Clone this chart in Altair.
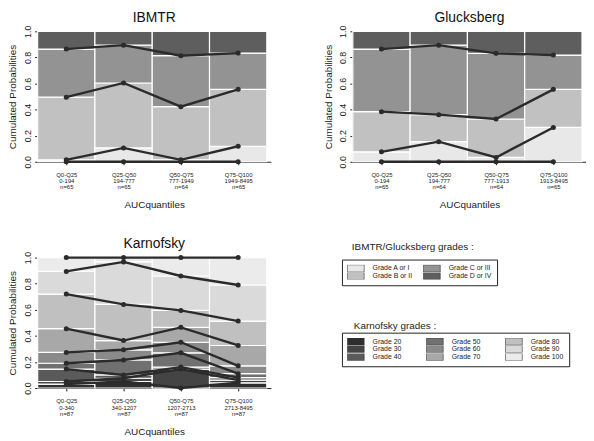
import json
import altair as alt
import pandas as pd

# ---------------- data ----------------
QUANTILES = ["Q0-Q25", "Q25-Q50", "Q50-Q75", "Q75-Q100"]

IBMTR_RANGES = ["0-194", "194-777", "777-1949", "1949-8495"]
IBMTR_N = ["n=65", "n=65", "n=64", "n=65"]
GLUCK_RANGES = ["0-194", "194-777", "777-1913", "1913-8495"]
GLUCK_N = ["n=65", "n=64", "n=64", "n=65"]
KARN_RANGES = ["0-340", "340-1207", "1207-2713", "2713-8495"]
KARN_N = ["n=87", "n=87", "n=87", "n=87"]

IBMTR_GRADES = ["Grade A or I", "Grade B or II", "Grade C or III", "Grade D or IV"]
IBMTR_COLORS = ["#e8e8e8", "#c1c1c1", "#939393", "#5e5e5e"]
KARN_GRADES = ["Grade 20", "Grade 30", "Grade 40", "Grade 50", "Grade 60",
               "Grade 70", "Grade 80", "Grade 90", "Grade 100"]
KARN_COLORS = ["#2e2e2e", "#444444", "#5a5a5a", "#707070", "#8a8a8a",
               "#a8a8a8", "#c0c0c0", "#dadada", "#ebebeb"]

# cumulative probability at the top of each grade (last grade closes at 1.0), one list per quantile
IBMTR_CUM = [
    [0.015, 0.495, 0.864],
    [0.106, 0.604, 0.894],
    [0.015, 0.422, 0.813],
    [0.119, 0.555, 0.833],
]
GLUCK_CUM = [
    [0.076, 0.384, 0.864],
    [0.154, 0.361, 0.894],
    [0.033, 0.328, 0.831],
    [0.263, 0.555, 0.818],
]
KARN_CUM = [
    [0.030, 0.050, 0.145, 0.190, 0.273, 0.455, 0.720, 0.894],
    [0.050, 0.075, 0.100, 0.215, 0.293, 0.364, 0.641, 0.967],
    [0.000, 0.145, 0.160, 0.270, 0.351, 0.465, 0.595, 0.859],
    [0.040, 0.060, 0.080, 0.110, 0.170, 0.326, 0.513, 0.790],
]

LEGEND_TITLES = ["IBMTR/Glucksberg grades :", "Karnofsky grades :"]

FONT = "Liberation Sans"
W, H = 236, 132
LINE_COLOR = "#2b2b2b"


def panel(title, ranges, ns, cum, grades, colors, lines_at_bottom):
    bar_rows, line_rows = [], []
    for i, c in enumerate(cum):
        bounds = [0.0] + list(c) + [1.0]
        for j, g in enumerate(grades):
            bar_rows.append({"x0": i - 0.5, "x1": i + 0.5, "grade": g,
                             "y0": bounds[j], "y1": bounds[j + 1]})
        levels = bounds[:-1] if lines_at_bottom else bounds[1:]
        for k, v in enumerate(levels):
            line_rows.append({"q": i, "level": k, "p": v})
    bars_df = pd.DataFrame(bar_rows)
    lines_df = pd.DataFrame(line_rows)

    labels = [[q, r, n] for q, r, n in zip(QUANTILES, ranges, ns)]
    xs = alt.Scale(domain=[-0.5, 3.57], nice=False, zero=False)
    ys = alt.Scale(domain=[0, 1], nice=False)
    xaxis = alt.Axis(title="AUCquantiles", values=[0, 1, 2, 3],
                     labelExpr=json.dumps(labels) + "[datum.value]",
                     labelFlush=False, grid=False, tickSize=3,
                     labelFontSize=6, labelLineHeight=6.3, labelPadding=7,
                     titleFontSize=10, titlePadding=10)
    yaxis = alt.Axis(title="Cumulated Probabilities",
                     values=[0, 0.2, 0.4, 0.6, 0.8, 1.0], format=".1f",
                     labelAngle=-90, labelAlign="center", labelBaseline="bottom",
                     grid=False, tickSize=3, labelPadding=2, labelFontSize=9,
                     titleFontSize=10, titlePadding=6)

    bars = alt.Chart(bars_df).mark_rect(stroke="white", strokeWidth=1.2).encode(
        x=alt.X("x0:Q", scale=xs, axis=xaxis),
        x2="x1:Q",
        y=alt.Y("y0:Q", scale=ys, axis=yaxis),
        y2="y1:Q",
        color=alt.Color("grade:N", scale=alt.Scale(domain=grades, range=colors), legend=None),
    )
    lines = alt.Chart(lines_df).mark_line(color=LINE_COLOR, strokeWidth=2.4).encode(
        x=alt.X("q:Q", scale=xs, axis=xaxis),
        y=alt.Y("p:Q", scale=ys, axis=yaxis),
        detail="level:N",
        order="q:Q",
    )
    points = alt.Chart(lines_df).mark_circle(color=LINE_COLOR, size=26, opacity=1).encode(
        x=alt.X("q:Q", scale=xs, axis=xaxis),
        y=alt.Y("p:Q", scale=ys, axis=yaxis),
    )
    return alt.layer(bars, lines, points).properties(
        title=alt.TitleParams(title, frame="group", offset=0), width=W, height=H)


ibmtr = panel("IBMTR", IBMTR_RANGES, IBMTR_N, IBMTR_CUM, IBMTR_GRADES, IBMTR_COLORS, True)
gluck = panel("Glucksberg", GLUCK_RANGES, GLUCK_N, GLUCK_CUM, IBMTR_GRADES, IBMTR_COLORS, True)
karn = panel("Karnofsky", KARN_RANGES, KARN_N, KARN_CUM, KARN_GRADES, KARN_COLORS, False)

# ---------------- legend panel ----------------
RECT_PATH = "M-1,-0.43H1V0.43H-1Z"


def legend_layer(grades, colors, ncols, lx, ly, colpad):
    df = pd.DataFrame({"g": grades})
    return alt.Chart(df).mark_rect().encode(
        x=alt.value(0), x2=alt.value(0), y=alt.value(0), y2=alt.value(0),
        color=alt.Color("g:N", scale=alt.Scale(domain=grades, range=colors),
                        legend=alt.Legend(title=None, orient="none", legendX=lx, legendY=ly,
                                          columns=ncols, columnPadding=colpad, rowPadding=-1,
                                          symbolType=RECT_PATH, symbolSize=289,
                                          symbolStrokeColor="#333", symbolStrokeWidth=0.6,
                                          symbolOpacity=1, clipHeight=7.3,
                                          labelFont=FONT, labelFontSize=7, labelOffset=8,
                                          labelColor="#222",
                                          strokeColor="#222", padding=5)),
    )


def legend_title(text, x, y):
    return alt.Chart(pd.DataFrame({"t": [text]})).mark_text(
        align="left", baseline="middle", font=FONT, fontSize=10, color="#222"
    ).encode(text="t:N", x=alt.value(x), y=alt.value(y))


leg_panel = alt.layer(
    legend_layer(IBMTR_GRADES, IBMTR_COLORS, 2, 19, 2, 10),
    legend_layer(KARN_GRADES, KARN_COLORS, 3, 19, 76, 24),
    legend_title(LEGEND_TITLES[0], 29, -11),
    legend_title(LEGEND_TITLES[1], 31, 69),
).resolve_scale(color="independent").properties(width=W, height=H)

top = alt.hconcat(ibmtr, gluck, spacing=53)
bottom = alt.hconcat(karn, leg_panel, spacing=53).resolve_scale(color="independent")
chart = alt.vconcat(top, bottom, spacing=27).resolve_scale(color="independent").properties(padding=0)

chart = chart.configure_axis(
    domainColor="#222", tickColor="#222", labelColor="#222", titleColor="#222",
    labelFont=FONT, titleFont=FONT, titleFontWeight="normal",
).configure_title(
    font=FONT, fontSize=14, fontWeight="normal", color="#111"
).configure_view(strokeWidth=0)

chart.save("out.html", embed_options={"renderer": "svg", "actions": False})
